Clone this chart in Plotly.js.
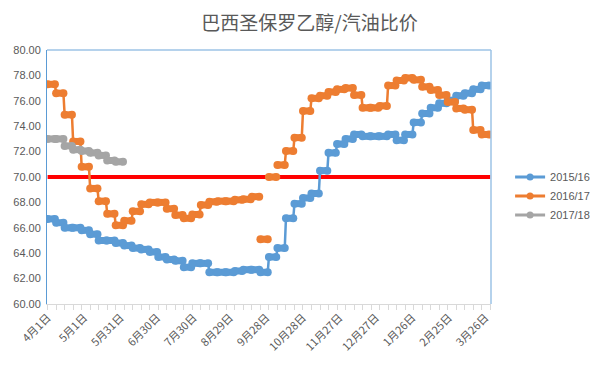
<!DOCTYPE html>
<html><head><meta charset="utf-8">
<script src="https://cdn.plot.ly/plotly-3.0.1.min.js"></script>
<style>html,body{margin:0;padding:0;background:#fff}#chart{width:607px;height:368px}</style>
</head><body><div id="chart"></div>
<script>
// ---- data (weekly average values, season starts 1 April) ----
const seasonStart = '2015-04-01';
const seriesNames = ['2015/16', '2016/17', '2017/18'];
const seriesColors = ['#5b9bd5', '#ed7d31', '#a5a5a5'];

const ratio2015 = [66.7, 66.4, 66.0, 66.0, 65.8, 65.5, 65.0, 65.0, 64.8, 64.6,
  64.4, 64.3, 64.1, 63.7, 63.5, 63.4, 62.9, 63.2, 63.2, 62.5,
  62.5, 62.5, 62.6, 62.7, 62.7, 62.5, 63.7, 64.4, 66.75, 67.9,
  68.35, 68.7, 70.5, 71.9, 72.6, 73.0, 73.35, 73.2, 73.2, 73.2,
  73.35, 72.9, 73.35, 74.3, 75.0, 75.45, 75.8, 76.05, 76.4, 76.6,
  76.9, 77.2];
const ratio2016 = [77.3, 76.6, 74.9, 72.8, 70.8, 69.1, 68.1, 67.1, 66.2, 66.55,
  67.3, 67.85, 68.0, 68.0, 67.5, 67.0, 66.75, 67.05, 67.8, 68.05,
  68.1, 68.1, 68.2, 68.25, 68.45, 65.1, 70.0, 70.95, 72.05, 73.1,
  75.2, 76.2, 76.4, 76.7, 76.9, 77.0, 76.45, 75.45, 75.45, 75.6,
  77.2, 77.6, 77.8, 77.65, 77.1, 76.85, 76.45, 75.9, 75.4, 75.3,
  73.7, 73.35];
const ratio2017 = [73.0, 73.0, 72.45, 72.15, 72.05, 71.9, 71.7, 71.3, 71.2];
// weeks that are not joined to the previous week (missing days in the source)
const gaps2016 = [25, 26, 27];

const parityLevel = 70;
const tickDays = [0, 30, 60, 90, 120, 150, 180, 210, 240, 270, 300, 330, 360];
const tickLabels = ['4月1日', '5月1日', '5月31日', '6月30日', '7月30日', '8月29日', '9月28日',
  '10月28日', '11月27日', '12月27日', '1月26日', '2月25日', '3月26日'];

// ---- build ----
const DAY = 86400000;
const t0 = Date.parse(seasonStart + 'T00:00:00Z');
function dayToDate(d) { return new Date(t0 + d * DAY).toISOString().slice(0, 19).replace('T', ' '); }

function buildTraces(values, name, color, gaps) {
  const bx = [], by = [], lx = [], ly = [];
  values.forEach((v, k) => {
    const s = dayToDate(7 * k), e = dayToDate(7 * k + 6);
    bx.push(s, e, null); by.push(v, v, null);
    if (gaps && gaps.includes(k)) { lx.push(null); ly.push(null); }
    lx.push(s, e); ly.push(v, v);
  });
  return [
    {x: lx, y: ly, type: 'scatter', mode: 'lines', line: {color: color, width: 2.5},
     connectgaps: false, showlegend: false, hoverinfo: 'skip'},
    {x: bx, y: by, type: 'scatter', mode: 'lines+markers', line: {color: color, width: 7},
     marker: {color: color, size: 8}, connectgaps: false, showlegend: false, name: name},
    {x: [null], y: [null], type: 'scatter', mode: 'lines+markers', name: name,
     line: {color: color, width: 3}, marker: {color: color, size: 7}}
  ];
}

const traces = [
  {x: [dayToDate(0), dayToDate(364)], y: [parityLevel, parityLevel], type: 'scatter', mode: 'lines',
   line: {color: '#ff0000', width: 4}, showlegend: false, hoverinfo: 'skip'}
];
const all = [ratio2015, ratio2016, ratio2017];
const gapsAll = [null, gaps2016, null];
all.forEach((vals, i) => traces.push(...buildTraces(vals, seriesNames[i], seriesColors[i], gapsAll[i])));

const tickvals = tickDays.map(dayToDate);

const layout = {
  width: 607, height: 368,
  margin: {l: 47, r: 96, t: 50, b: 64},
  paper_bgcolor: '#ffffff', plot_bgcolor: '#ffffff',
  font: {family: 'Liberation Sans, Arial, sans-serif', color: '#595959', size: 11},
  title: {text: '巴西圣保罗乙醇/汽油比价', font: {family: 'Noto Sans CJK SC', size: 19, color: '#595959'},
          x: 0.51, xanchor: 'center', xref: 'container', y: 0.9375, yanchor: 'middle', yref: 'container'},
  xaxis: {
    type: 'date', range: [dayToDate(-0.5), dayToDate(364.6)],
    tickvals: tickvals, ticktext: tickLabels, tickangle: -45,
    tickfont: {family: 'Noto Sans CJK SC', size: 11, color: '#595959'},
    showgrid: false, zeroline: false, showline: true, linecolor: '#d9d9d9', linewidth: 1,
    ticks: '', ticklabelstandoff: 2,
    minor: {ticks: 'outside', ticklen: 5, tickcolor: '#d9d9d9', dtick: 7 * DAY, tick0: seasonStart, showgrid: false}
  },
  yaxis: {
    range: [60, 80], tick0: 60, dtick: 2, tickformat: '.2f',
    tickfont: {family: 'Liberation Sans, Arial, sans-serif', size: 11, color: '#595959'},
    showgrid: false, zeroline: false, showline: true, linecolor: '#5b9bd5', linewidth: 1, ticks: '',
    ticklabelstandoff: 3
  },
  shapes: [
    {type: 'line', xref: 'paper', yref: 'paper', x0: 0, x1: 1, y0: 1, y1: 1, line: {color: '#9dc3e6', width: 1.5}},
    {type: 'line', xref: 'paper', yref: 'paper', x0: 1, x1: 1, y0: 0, y1: 1, line: {color: '#9dc3e6', width: 1.5}}
  ],
  legend: {x: 1.043, xanchor: 'left', y: 0.425, yanchor: 'middle', font: {size: 11, color: '#595959'},
           bgcolor: 'rgba(0,0,0,0)'},
  hovermode: false
};

Plotly.newPlot('chart', traces, layout, {displayModeBar: false, staticPlot: true});
</script>
</body></html>
